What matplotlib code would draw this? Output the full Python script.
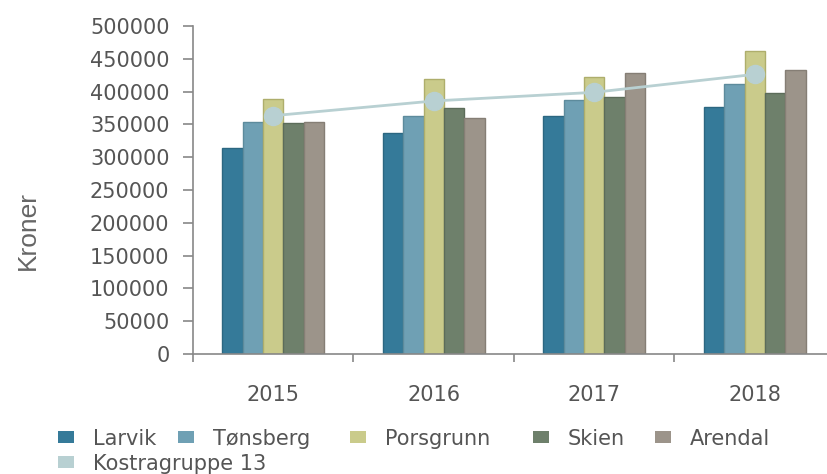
import matplotlib
matplotlib.use("Agg")
import matplotlib.pyplot as plt
from matplotlib.patches import Rectangle
import numpy as np

# Data
years = ["2015", "2016", "2017", "2018"]
larvik = [313600, 337400, 362800, 376000]
tonsberg = [354100, 362300, 386700, 411100]
porsgrunn = [389200, 418700, 421800, 462400]
skien = [351600, 375500, 392300, 398400]
arendal = [354100, 359300, 427900, 432900]
kostragruppe_13 = [363300, 385700, 398900, 426300]

bar_names = ["Larvik", "Tønsberg", "Porsgrunn", "Skien", "Arendal"]
line_name = "Kostragruppe 13"
y_ticks = [0, 50000, 100000, 150000, 200000, 250000, 300000, 350000, 400000, 450000, 500000]
y_label = "Kroner"

# Styling
bar_colors = ["#357a99", "#6fa0b4", "#cacb8b", "#6e806b", "#9c948a"]
edge_colors = ["#2c6781", "#5d8b9c", "#aeae6c", "#5c6c5a", "#857e75"]
line_color = "#b8d0d2"
text_color = "#555555"
axis_color = "#888888"
font = ["DejaVu Sans"]

W, H = 828, 474
fig = plt.figure(figsize=(W / 100, H / 100), dpi=100)
ax = fig.add_axes([193 / W, 1 - 354 / H, 642 / W, 328 / H])

x = np.arange(len(years))
bw = 0.127
series = [larvik, tonsberg, porsgrunn, skien, arendal]
for i, (vals, c, ec) in enumerate(zip(series, bar_colors, edge_colors)):
    ax.bar(x + (i - 2) * bw, vals, width=bw, color=c, edgecolor=ec,
           linewidth=1.0, zorder=2)

ax.plot(x, kostragruppe_13, color=line_color, linewidth=2.0, marker="o",
        markersize=13, markerfacecolor=line_color, markeredgecolor=line_color,
        zorder=3)

ax.set_xlim(-0.5, len(years) - 0.5)
ax.set_ylim(0, 500000)

ax.set_yticks(y_ticks)
ax.set_yticklabels([str(v) for v in y_ticks], fontfamily=font, fontsize=15,
                   color=text_color)

# Ticks at category boundaries, labels at category centres
ax.set_xticks(np.arange(-0.5, len(years), 1.0))
ax.set_xticklabels([])
ax.set_xticks(x, minor=True)
ax.set_xticklabels(years, minor=True, fontfamily=font, fontsize=15,
                   color=text_color)
ax.tick_params(axis="x", which="major", length=6, width=1.2, color=axis_color)
ax.tick_params(axis="x", which="minor", length=0, pad=22)
ax.tick_params(axis="y", length=7, width=1.2, color=axis_color, pad=10)

for s in ["top", "right"]:
    ax.spines[s].set_visible(False)
for s in ["left", "bottom"]:
    ax.spines[s].set_color(axis_color)
    ax.spines[s].set_linewidth(1.2)

fig.text(28 / W, 1 - 230 / H, y_label, rotation=90, ha="center", va="center",
         fontsize=19, color="#666666",
         family=["Liberation Sans Narrow", "Liberation Sans", "DejaVu Sans"])

# Legend drawn as a flowing row of swatches
legend_names = bar_names + [line_name]
legend_colors = bar_colors + [line_color]
swatch_x = [58, 178, 350, 533, 655, 58]
swatch_y = [437, 437, 437, 437, 437, 462]
for name, c, sx, sy in zip(legend_names, legend_colors, swatch_x, swatch_y):
    fig.patches.append(Rectangle((sx / W, 1 - (sy + 6) / H), 16 / W, 12 / H,
                                 transform=fig.transFigure, facecolor=c,
                                 edgecolor="none"))
    fig.text((sx + 35) / W, 1 - sy / H, name, ha="left", va="center_baseline",
             fontsize=15, color=text_color, family=font)

fig.savefig("out.png", dpi=100)
